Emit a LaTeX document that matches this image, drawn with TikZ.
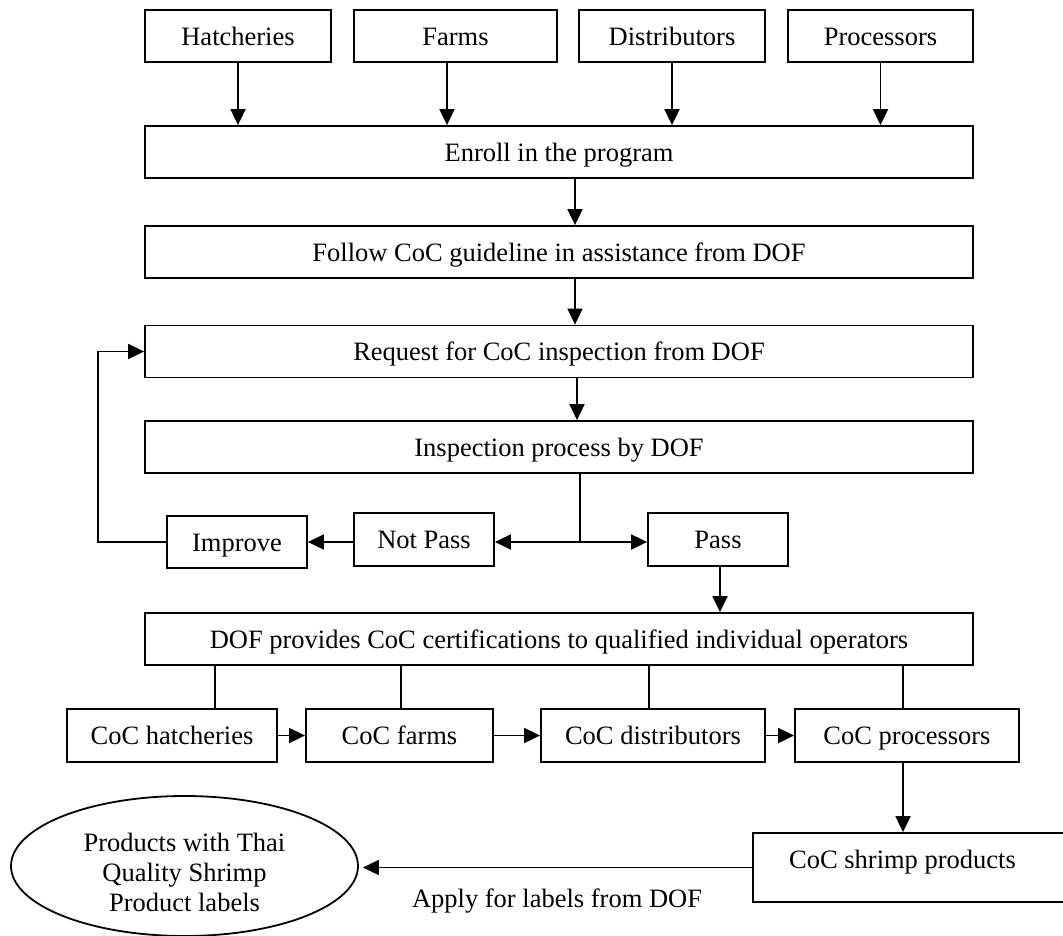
\documentclass[tikz,border=0pt]{standalone}
\usepackage{fontspec}
\setmainfont{Liberation Serif}
\usetikzlibrary{arrows.meta,shapes.geometric}
\begin{document}
\begin{tikzpicture}[x=1pt,y=-1pt,
  every node/.style={font=\fontsize{26.5}{30}\selectfont},
  box/.style={draw,line width=1.8pt,rectangle,inner sep=0pt,minimum height=52,text height=21pt,text depth=3pt},
  arr/.style={line width=1.8pt,-{Triangle[length=16pt,width=15pt]}},
  ln/.style={line width=1.8pt}]
\useasboundingbox (0,0) rectangle (1063,935);
% top row
\node[box,minimum width=186] (hat) at (238,36) {Hatcheries};
\node[box,minimum width=203] (farms) at (455.5,36) {Farms};
\node[box,minimum width=186] (dist) at (672,36) {Distributors};
\node[box,minimum width=185] (proc) at (880.5,36) {Processors};
% main steps
\node[box,minimum width=828] (enroll) at (559,152) {Enroll in the program};
\node[box,minimum width=828] (follow) at (559,252) {Follow CoC guideline in assistance from DOF};
\node[box,minimum width=828] (request) at (559,351.5) {Request for CoC inspection from DOF};
\node[box,minimum width=828] (inspect) at (559,447) {Inspection process by DOF};
\node[box,minimum width=140,minimum height=53] (notpass) at (424,539.5) {Not Pass};
\node[box,minimum width=140] (improve) at (237,542) {Improve};
\node[box,minimum width=140,minimum height=53] (pass) at (718,539.5) {Pass};
\node[box,minimum width=828] (dof) at (559,639) {DOF provides CoC certifications to qualified individual operators};
% CoC row
\node[box,minimum width=210,minimum height=53] (ch) at (172,735.5) {CoC hatcheries};
\node[box,minimum width=187,minimum height=53] (cf) at (399.5,735.5) {CoC farms};
\node[box,minimum width=224,minimum height=53] (cd) at (653,735.5) {CoC distributors};
\node[box,minimum width=224,minimum height=53] (cp) at (907,735.5) {CoC processors};
% shrimp products
\node[box,minimum width=330,minimum height=69,anchor=west] (shrimp) at (752,867.5) {};
\node (shrimptext) at (902.5,862) {CoC shrimp products};
\node[draw,ellipse,line width=1.8pt,minimum width=347,minimum height=140,inner sep=0pt] (ell) at (184.5,866) {};
\node[align=center] (elltext) at (184.5,872) {Products with Thai\\Quality Shrimp\\Product labels};
\node (applylbl) at (557,901) {Apply for labels from DOF};
% arrows top
\draw[arr] (hat.south) -- (enroll.north -| hat.south);
\draw[arr] (farms.south -| 447,0) -- (enroll.north -| 447,0);
\draw[arr] (dist.south) -- (enroll.north -| dist.south);
\draw[arr] (proc.south) -- (enroll.north -| proc.south);
\draw[arr] (enroll.south -| 575,0) -- (follow.north -| 575,0);
\draw[arr] (follow.south -| 575,0) -- (request.north -| 575,0);
\draw[arr] (request.south -| 577,0) -- (inspect.north -| 577,0);
% decision
\coordinate (j) at (580,542);
\draw[ln] (inspect.south -| j) -- (j);
\draw[arr] (j) -- (notpass.east |- j);
\draw[arr] (j) -- (pass.west |- j);
\draw[arr] (notpass.west |- improve.east) -- (improve.east);
\coordinate (loop) at (98,542);
\draw[arr] (improve.west) -- (loop) |- (request.west);
\draw[arr] (pass.south -| 720,0) -- (dof.north -| 720,0);
% DOF to CoC boxes
\draw[ln] (dof.south -| 215,0) -- (ch.north -| 215,0);
\draw[ln] (dof.south -| 401,0) -- (cf.north -| 401,0);
\draw[ln] (dof.south -| 649,0) -- (cd.north -| 649,0);
\draw[ln] (dof.south -| 903,0) -- (cp.north -| 903,0);
\draw[arr] (ch.east) -- (cf.west);
\draw[arr] (cf.east) -- (cd.west);
\draw[arr] (cd.east) -- (cp.west);
\draw[arr] (cp.south -| 903,0) -- (shrimp.north -| 903,0);
\draw[arr,shorten >=4pt] (shrimp.west) -- (ell.east |- shrimp.west);
\end{tikzpicture}
\end{document}
